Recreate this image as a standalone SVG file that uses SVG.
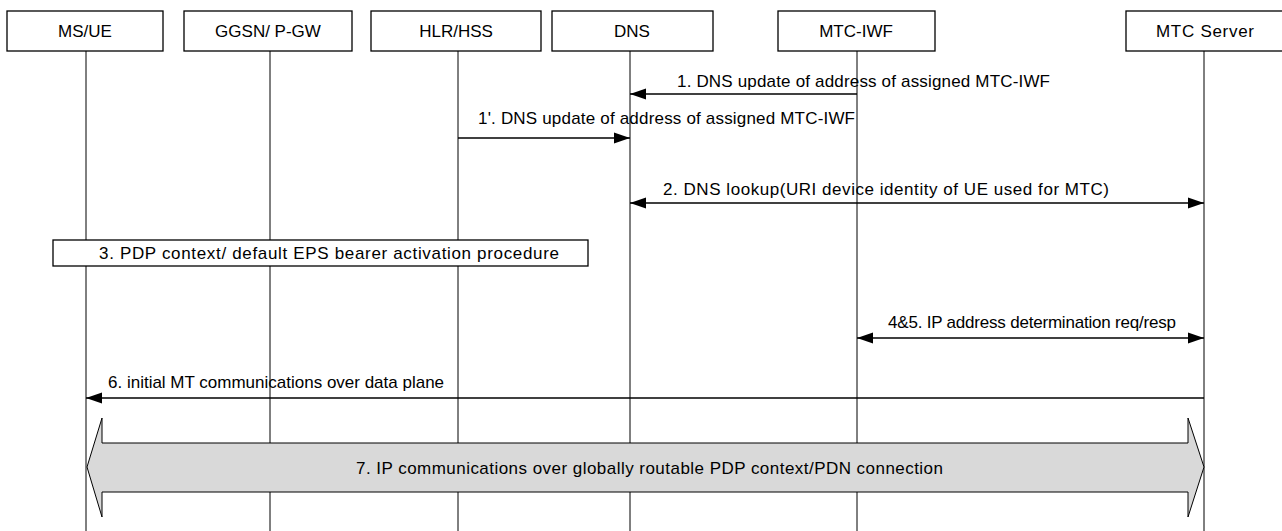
<svg xmlns="http://www.w3.org/2000/svg" width="1282" height="531" viewBox="0 0 1282 531">
<defs>
<style>
.box{fill:#fff;stroke:#000;stroke-width:1.3}
.life{stroke:#000;stroke-width:1;fill:none}
.msg{stroke:#000;stroke-width:1.5;fill:none}
.t{font-family:"Liberation Sans",Arial,sans-serif;font-size:17px;fill:#000}
.c{text-anchor:middle}
</style>
<marker id="ah" markerWidth="16" markerHeight="12" refX="16" refY="6" orient="auto-start-reverse" markerUnits="userSpaceOnUse">
<path d="M0,0.5 L16,6 L0,11.5 z" fill="#000"/>
</marker>
</defs>
<rect width="1282" height="531" fill="#fff"/>

<g id="lifelines">
<line class="life" x1="86" y1="51" x2="86" y2="531"/>
<line class="life" x1="270" y1="51" x2="270" y2="531"/>
<line class="life" x1="458" y1="51" x2="458" y2="531"/>
<line class="life" x1="630" y1="51" x2="630" y2="531"/>
<line class="life" x1="857" y1="51" x2="857" y2="531"/>
<line class="life" x1="1204" y1="51" x2="1204" y2="531"/>
</g>

<g id="node-msue"><rect class="box" x="7" y="11" width="156" height="40"/><text class="t c" x="85" y="37">MS/UE</text></g>
<g id="node-ggsn"><rect class="box" x="184" y="11" width="168" height="40"/><text class="t c" x="268" y="37">GGSN/ P-GW</text></g>
<g id="node-hlr"><rect class="box" x="371" y="11" width="170" height="40"/><text class="t c" x="456" y="37">HLR/HSS</text></g>
<g id="node-dns"><rect class="box" x="552" y="11" width="161" height="40"/><text class="t c" x="632" y="37">DNS</text></g>
<g id="node-mtciwf"><rect class="box" x="778" y="11" width="157" height="40"/><text class="t c" x="856" y="37">MTC-IWF</text></g>
<g id="node-mtcserver"><rect class="box" x="1126" y="11" width="160" height="40"/><text class="t c" x="1205" y="37" textLength="98" lengthAdjust="spacing">MTC Server</text></g>

<g id="node-step3"><rect class="box" x="53" y="240" width="535" height="26"/><text class="t" x="99" y="259" textLength="460" lengthAdjust="spacing">3. PDP context/ default EPS bearer activation procedure</text></g>

<g id="connectors">
<line class="msg" x1="857" y1="94" x2="630" y2="94" marker-end="url(#ah)"/>
<text class="t" x="677" y="87" textLength="373" lengthAdjust="spacing">1. DNS update of address of assigned MTC-IWF</text>
<line class="msg" x1="458" y1="138" x2="630" y2="138" marker-end="url(#ah)"/>
<text class="t" x="478" y="124" textLength="377" lengthAdjust="spacing">1'. DNS update of address of assigned MTC-IWF</text>
<line class="msg" x1="630" y1="203" x2="1204" y2="203" marker-start="url(#ah)" marker-end="url(#ah)"/>
<text class="t" x="663" y="195" textLength="446" lengthAdjust="spacing">2. DNS lookup(URI device identity of UE used for MTC)</text>
<line class="msg" x1="857" y1="338" x2="1204" y2="338" marker-start="url(#ah)" marker-end="url(#ah)"/>
<text class="t" x="888" y="328" textLength="288" lengthAdjust="spacing">4&amp;5. IP address determination req/resp</text>
<line class="msg" x1="1204" y1="398" x2="86" y2="398" marker-end="url(#ah)"/>
<text class="t" x="108" y="388">6. initial MT communications over data plane</text>
</g>

<g id="node-step7">
<path d="M87,467 L102,418 L102,443 L1188,443 L1188,418 L1204,467 L1188,517 L1188,492 L102,492 L102,517 Z" fill="#d9d9d9" stroke="#000" stroke-width="1"/>
<text class="t" x="356" y="474" textLength="587" lengthAdjust="spacing">7. IP communications over globally routable PDP context/PDN connection</text>
</g>
</svg>
